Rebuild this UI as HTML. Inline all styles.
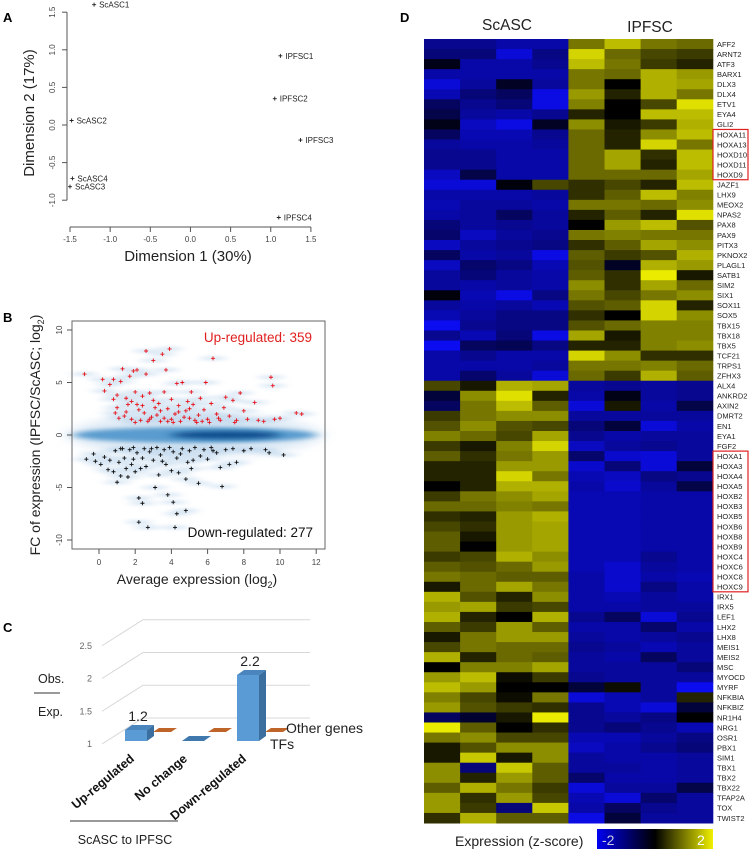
<!DOCTYPE html>
<html><head><meta charset="utf-8"><style>
html,body{margin:0;padding:0;background:#fff;}
svg{display:block;font-family:"Liberation Sans",Arial,sans-serif;}
</style></head><body>
<svg id="fig" width="750" height="851" viewBox="0 0 750 851" xmlns="http://www.w3.org/2000/svg">
<defs>
<filter id="blur6" x="-20%" y="-200%" width="140%" height="500%"><feGaussianBlur stdDeviation="10 4"/></filter>
<filter id="blur2" x="-20%" y="-200%" width="140%" height="500%"><feGaussianBlur stdDeviation="6 2"/></filter>
<filter id="blurH" x="-50%" y="-300%" width="200%" height="700%"><feGaussianBlur stdDeviation="5 1.5"/></filter>
<linearGradient id="cbar" x1="0" x2="1" y1="0" y2="0"><stop offset="0" stop-color="#0000f0"/><stop offset="0.5" stop-color="#000"/><stop offset="1" stop-color="#f0f000"/></linearGradient>
</defs>
<g id="panelA"></g>
<g id="panelB"></g>
<g id="panelC"></g>
<g id="panelD"></g>
</svg>
<script>
// ---- Panel A data ----
const mdsLabels = ["ScASC1","ScASC2","ScASC4","ScASC3","IPFSC1","IPFSC2","IPFSC3","IPFSC4"];
const mdsDim1 = [-1.2,-1.48,-1.47,-1.5,1.12,1.05,1.37,1.1];
const mdsDim2 = [1.6,0.06,-0.71,-0.82,0.92,0.35,-0.2,-1.23];
const mdsXTicks = [-1.5,-1.0,-0.5,0.0,0.5,1.0,1.5];
const mdsYTicks = [1.5,1.0,0.5,0.0,-0.5,-1.0];
// ---- Panel B data ----
const upX = [-0.8,0.2,0.3,0.6,0.8,0.8,1.0,1.0,1.2,1.3,1.5,1.5,1.7,1.8,1.9,2.0,2.1,2.1,2.3,2.4,2.5,2.6,2.6,2.8,2.9,3.0,3.1,3.3,3.4,3.5,3.6,3.7,3.8,3.9,4.0,4.0,4.2,4.3,4.4,4.5,4.6,4.8,5.0,5.1,5.2,5.3,5.5,5.6,5.8,5.9,6.0,6.2,6.3,6.5,6.7,6.9,7.0,7.2,7.4,7.6,7.8,8.0,8.2,8.6,8.8,9.1,9.5,9.6,9.7,10.0,10.9,11.2,1.4,2.0,2.7,3.2,3.6,4.1,4.7,5.4,6.1,1.6,2.2,3.0,4.9,5.7,6.6,7.5,0.9,1.1,2.4,3.8,4.4,5.0,3.4,2.8,1.8];
const upY = [5.8,5.3,4.2,4.8,5.3,3.4,2.6,3.8,5.1,6.3,3.5,2.2,5.6,1.5,6.1,4.1,6.2,2.9,1.4,3.7,2.1,8.0,5.8,4.0,1.7,7.1,2.6,3.0,1.3,7.7,4.1,6.2,2.5,8.2,1.5,3.4,2.0,4.9,2.8,1.3,5.0,2.3,1.6,4.1,2.9,1.4,1.9,3.5,2.4,5.0,1.5,3.0,7.3,2.0,1.4,2.6,3.6,1.8,3.3,1.4,4.0,2.3,1.5,3.1,1.4,1.3,5.5,4.7,1.5,1.6,2.1,2.0,1.8,1.2,1.3,1.9,1.6,1.2,1.7,1.2,1.2,2.9,2.4,3.3,3.2,1.3,1.6,1.2,2.1,1.6,2.8,1.3,2.2,2.5,2.3,1.5,3.2];
const downX = [-0.7,-0.3,-0.2,0.1,0.3,0.5,0.6,0.8,0.9,1.0,1.1,1.2,1.3,1.4,1.5,1.6,1.7,1.8,1.9,2.0,2.1,2.2,2.2,2.4,2.4,2.5,2.6,2.7,2.8,3.0,3.1,3.2,3.3,3.4,3.6,3.7,3.8,3.9,4.0,4.1,4.1,4.2,4.3,4.3,4.4,4.6,4.8,4.8,4.9,5.0,5.1,5.3,5.5,5.6,5.8,6.0,6.2,6.5,6.7,6.8,7.0,7.2,7.4,7.6,8.0,8.4,9.2,9.4,10.2,1.2,2.9,3.5,4.5,5.2,6.3,2.3,1.9];
const downY = [-2.3,-1.8,-2.5,-2.8,-2.1,-3.3,-2.4,-3.5,-1.5,-4.5,-2.6,-3.9,-1.3,-2.2,-3.2,-4.0,-1.4,-2.8,-1.2,-3.5,-1.7,-6.0,-8.3,-6.5,-2.2,-1.3,-3.0,-8.8,-1.6,-2.4,-5.0,-1.2,-3.8,-1.9,-1.4,-2.8,-5.7,-1.2,-3.4,-6.4,-1.6,-8.8,-2.2,-7.5,-3.6,-1.3,-7.2,-4.2,-2.6,-1.5,-3.2,-1.2,-4.6,-2.0,-1.4,-2.3,-1.2,-1.7,-3.1,-4.9,-1.4,-2.8,-1.3,-2.6,-1.5,-1.3,-1.4,-1.7,-1.9,-1.3,-1.3,-2.5,-1.8,-2.4,-1.5,-3.2,-2.3];
const maXTicks = [0,2,4,6,8,10,12];
const maYTicks = [10,5,0,-5,-10];
const upCount = 359, downCount = 277;
// ---- Panel C data ----
const cCategories = ["Up-regulated","No change","Down-regulated"];
const cTFs = [1.2,1.0,2.2];
const cOther = [1.2,1.2,1.2];
const cTicks = [2.5,2,1.5,1];
// ---- Panel D data ----
const genes = ["AFF2","ARNT2","ATF3","BARX1","DLX3","DLX4","ETV1","EYA4","GLI2","HOXA11","HOXA13","HOXD10","HOXD11","HOXD9","JAZF1","LHX9","MEOX2","NPAS2","PAX8","PAX9","PITX3","PKNOX2","PLAGL1","SATB1","SIM2","SIX1","SOX11","SOX5","TBX15","TBX18","TBX5","TCF21","TRPS1","ZFHX3","ALX4","ANKRD2","AXIN2","DMRT2","EN1","EYA1","FGF2","HOXA1","HOXA3","HOXA4","HOXA5","HOXB2","HOXB3","HOXB5","HOXB6","HOXB8","HOXB9","HOXC4","HOXC6","HOXC8","HOXC9","IRX1","IRX5","LEF1","LHX2","LHX8","MEIS1","MEIS2","MSC","MYOCD","MYRF","NFKBIA","NFKBIZ","NR1H4","NRG1","OSR1","PBX1","SIM1","TBX1","TBX2","TBX22","TFAP2A","TOX","TWIST2"];
const zScores = [
[-1.2,-1.2,-1.4,-1.4,1.0,1.6,1.0,0.9],[-1,-1,-1.8,-1.1,1.8,0.9,0.6,0.5],[-0.2,-1.4,-1.4,-1.2,1.6,1.0,0.5,0.3],[-1.4,-1.4,-1.4,-1.4,1.0,0.9,1.5,1.3],
[-1.8,-1.3,-0.3,-1.3,1.0,0,1.5,1.4],[-1.5,-1.0,-0.8,-1.9,1.3,0.3,1.5,1.0],[-0.8,-1.2,-1.0,-1.9,1.1,0,0.6,1.9],[-0.6,-1.3,-1.4,-1.2,0.3,0,1.6,1.6],
[-0.2,-1.6,-1.9,-0.3,1.2,0.2,0.5,1.5],[-0.8,-1.5,-1.5,-1.2,0.9,0.3,1.2,1.6],[-1.3,-1.4,-1.4,-1.3,0.9,0.3,1.8,1.0],[-1.2,-1.2,-1.4,-1.4,0.9,1.4,0.4,1.6],
[-1.2,-1.2,-1.4,-1.4,0.9,1.4,0.3,1.6],[-1.6,-0.6,-1.4,-1.4,0.9,0.9,0.9,1.4],[-1.8,-1.8,-0.1,0.6,0.4,0.6,0.3,1.6],[-1.4,-1.4,-1.4,-1.3,0.4,0.8,1.6,1.1],
[-1.5,-1.3,-1.3,-1.4,1.0,1.0,0.9,1.2],[-1.4,-1.3,-0.8,-1.3,0.3,0.8,0.3,1.9],[-1.0,-1.3,-1.2,-1.3,0.0,1.3,1.6,0.7],[-0.9,-1.6,-1.3,-1.2,1.0,1.1,1.0,1.0],
[-1.6,-1.3,-1.2,-1.1,0.4,0.8,1.4,1.2],[-0.8,-1.4,-1.3,-1.9,0.8,0.5,0.7,1.5],[-1.6,-0.9,-1.1,-1.5,0.7,-0.3,1.5,1.3],[-1.3,-1.0,-1.3,-1.4,0.8,0.4,2.0,0.2],
[-1.3,-1.4,-1.3,-1.4,1.2,0.4,1.4,0.9],[-0.1,-1.5,-1.9,-1.1,1.0,0.6,1.0,1.2],[-1.3,-1.4,-1.3,-1.5,0.7,0.8,1.8,0.3],[-1.5,-1.3,-1.1,-1.1,0.4,0,1.8,1.2],
[-2.0,-1.2,-1.1,-1.1,0.7,0.9,1.1,1.1],[-1.2,-1.5,-1.0,-1.9,1.4,0.2,1.1,1.1],[-2.2,-0.8,-0.7,-1.1,0.3,0.3,1.1,1.2],[-1.4,-1.2,-1.4,-1.4,1.8,1.2,0.4,0.4],
[-1.4,-1.4,-1.4,-1.3,1.0,1.0,1.1,0.9],[-1.4,-0.9,-1.3,-1.8,0.9,0.5,1.5,0.8],
[0.6,0.2,1.5,1.4,-1.3,-1.2,-1.3,-1.2],[-0.5,1.2,1.9,0.3,-1.4,-0.2,-1.3,-1.2],[-0.8,1.0,1.6,0.8,-1.8,0.2,-1.4,-0.6],[0.5,1.0,1.2,1.2,-1.3,-1.3,-1.3,-1.3],
[0.7,1.2,0.7,0.6,-1.0,-0.5,-1.8,-1.4],[1.1,0.9,0.6,1.4,-1.2,-1.4,-1.3,-1.3],[0.5,0.2,1.1,1.8,-1.6,-1.3,-1.2,-1.3],[0.8,0.4,1.0,1.3,-0.9,-1.7,-1.8,-1.3],
[0.3,0.3,1.3,1.3,-1.7,-1.0,-1.8,-0.5],[0.3,0.3,1.8,1.0,-1.5,-1.6,-1.1,-1.2],[0.0,0.3,1.5,1.5,-1.4,-1.7,-1.3,-0.6],[0.5,1.0,1.2,1.4,-1.5,-1.5,-1.4,-1.4],
[0.9,0.9,1.1,1.0,-1.5,-1.5,-1.4,-1.4],[0.4,0.3,1.3,1.5,-1.5,-1.5,-1.4,-1.4],[0.6,0.4,1.3,1.4,-1.5,-1.5,-1.4,-1.4],[0.8,0.2,1.3,1.4,-1.5,-1.5,-1.4,-1.4],
[0.8,0.0,1.3,1.4,-1.5,-1.5,-1.4,-1.4],[0.5,0.6,1.5,1.2,-1.5,-1.5,-1.2,-1.4],[0.8,0.7,0.9,1.3,-1.5,-1.7,-1.3,-1.4],[1.0,0.9,0.8,0.8,-1.4,-1.7,-1.4,-1.5],
[0.2,0.9,1.4,1.0,-1.4,-1.7,-1.1,-1.4],[1.5,0.7,0.3,1.2,-1.4,-1.5,-1.3,-1.4],[1.3,1.4,0.5,0.6,-1.4,-1.4,-1.3,-1.3],[1.5,0.3,0.0,1.5,-1.2,-0.8,-1.8,-1.2],
[0.8,0.5,1.3,0.8,-1.4,-1.4,-0.9,-1.4],[0.2,1.0,1.3,1.3,-1.3,-1.4,-1.3,-1.2],[0.6,1.0,0.9,0.9,-1.2,-1.3,-1.5,-1.3],[1.5,0.3,0.9,0.8,-1.3,-1.4,-0.8,-1.3],
[0.0,1.1,1.1,1.4,-1.3,-1.3,-1.3,-1.0],[1.3,1.6,0.1,0.5,-1.2,-1.3,-1.3,-1.3],[1.6,1.3,0.0,0.0,-0.5,0.1,-1.3,-2.0],[1.1,0.6,0.1,1.0,-1.8,-1.5,-1.3,0.3],
[1.3,0.7,0.5,0.4,-1.2,-1.5,-1.8,-0.5],[-0.8,-0.4,0.2,2.0,-1.2,-1.3,-1.1,0.0],[2.0,0.8,0.0,0.4,-1.2,-1.0,-1.2,-1.5],[1.0,1.2,0.6,0.6,-1.5,-1.5,-1.3,-1.1],
[0.2,0.7,1.2,1.2,-1.6,-1.4,-1.2,-1.0],[0.2,1.7,0.2,1.2,-1.3,-1.4,-1.4,-1.3],[1.2,-1.0,1.7,0.8,-1.3,-1.3,-1.4,-1.3],[1.2,0.3,1.3,0.8,-0.9,-1.4,-1.4,-1.3],
[0.8,1.5,1.0,0.5,-1.8,-1.3,-1.3,-0.6],[1.3,0.4,1.3,0.6,-1.5,-1.8,-0.9,-1.3],[1.3,0.5,-1.0,1.7,-1.4,-0.8,-1.2,-1.3],[0.4,1.5,0.8,0.8,-1.9,-0.5,-1.3,-1.3]
];
const boxedGroups = [["HOXA11","HOXD9"],["HOXA1","HOXC9"]];

const NS="http://www.w3.org/2000/svg";
function mk(parent,tag,attrs,text){const e=document.createElementNS(NS,tag);for(const k in attrs)e.setAttribute(k,attrs[k]);if(text!==undefined)e.textContent=text;parent.appendChild(e);return e;}
function cross(g,x,y,s,col,w){mk(g,"path",{d:`M${x-s},${y}H${x+s}M${x},${y-s}V${y+s}`,stroke:col,"stroke-width":w,fill:"none"});}

// ===== Panel A =====
(function(){
const g=document.getElementById("panelA");
const ax=v=>70+(v+1.5)*80.3, ay=v=>125-v*75.2;
let t=mk(g,"text",{x:3,y:22,"font-size":13,"font-weight":"bold"},"A");

let yl=mk(g,"line",{x1:67,x2:67,y1:ay(1.5),y2:ay(-1),stroke:"#555"});

mdsYTicks.forEach(v=>{mk(g,"line",{x1:62,x2:67,y1:ay(v),y2:ay(v),stroke:"#555"});
 const tx=mk(g,"text",{x:55,y:ay(v),"font-size":8,fill:"#444","text-anchor":"middle",transform:`rotate(-90 55 ${ay(v)})`},v.toFixed(1));
 });
let xl=mk(g,"line",{x1:ax(-1.5),x2:ax(1.5),y1:227,y2:227,stroke:"#555"});

mdsXTicks.forEach(v=>{mk(g,"line",{x1:ax(v),x2:ax(v),y1:227,y2:232,stroke:"#555"});
 const tx=mk(g,"text",{x:ax(v),y:242,"font-size":8,fill:"#444","text-anchor":"middle"},v.toFixed(1));
 });
let xt=mk(g,"text",{x:188,y:261,"font-size":15,fill:"#222","text-anchor":"middle"},"Dimension 1 (30%)");

let yt=mk(g,"text",{x:34,y:113,"font-size":15,fill:"#222","text-anchor":"middle",transform:"rotate(-90 34 113)"},"Dimension 2 (17%)");

mdsLabels.forEach((lab,i)=>{const px=ax(mdsDim1[i]),py=ay(mdsDim2[i]);
 const pg=mk(g,"g",{});
 cross(pg,px,py,2,"#222",0.9);
 mk(pg,"text",{x:px+5,y:py+3,"font-size":8,fill:"#222"},lab);});
})();

// ===== Panel B =====
(function(){
const g=document.getElementById("panelB");
const bx=v=>99+v*18.1, by=v=>435-v*10.5;
let t=mk(g,"text",{x:3,y:322,"font-size":13,"font-weight":"bold"},"B");

const band=mk(g,"g",{});
mk(band,"ellipse",{cx:bx(5.3),cy:by(0),rx:125,ry:22,fill:"#c9ddef",opacity:0.6,filter:"url(#blur6)"});
mk(band,"ellipse",{cx:bx(5.3),cy:by(0),rx:122,ry:8,fill:"#5a9ccf",filter:"url(#blur2)"});
mk(band,"ellipse",{cx:bx(7),cy:by(0),rx:55,ry:4,fill:"#0e4f8f",filter:"url(#blur2)"});
const halo=mk(band,"g",{filter:"url(#blurH)",opacity:0.45});
upX.forEach((x,i)=>mk(halo,"ellipse",{cx:bx(x),cy:by(upY[i]),rx:13,ry:2,fill:"#a9c9e6"}));
downX.forEach((x,i)=>mk(halo,"ellipse",{cx:bx(x),cy:by(downY[i]),rx:13,ry:2,fill:"#a9c9e6"}));
let box=mk(g,"rect",{x:72,y:321,width:253,height:228,fill:"none",stroke:"#666"});

maYTicks.forEach(v=>{mk(g,"line",{x1:67,x2:72,y1:by(v),y2:by(v),stroke:"#555"});
 const tx=mk(g,"text",{x:62,y:by(v),"font-size":8,fill:"#444","text-anchor":"middle",transform:`rotate(-90 62 ${by(v)})`},v);
 });
maXTicks.forEach(v=>{mk(g,"line",{x1:bx(v),x2:bx(v),y1:549,y2:554,stroke:"#555"});
 const tx=mk(g,"text",{x:bx(v),y:565,"font-size":8,fill:"#444","text-anchor":"middle"},v);
 });
const up=mk(g,"g",{});
upX.forEach((x,i)=>cross(up,bx(x),by(upY[i]),2,"#e8141c",0.9));
const dn=mk(g,"g",{});
downX.forEach((x,i)=>cross(dn,bx(x),by(downY[i]),2,"#111",0.9));
let ut=mk(g,"text",{x:312,y:342,"font-size":13.5,fill:"#e02020","text-anchor":"end"},"Up-regulated: "+upCount);

let dt=mk(g,"text",{x:313,y:537,"font-size":13.5,fill:"#111","text-anchor":"end"},"Down-regulated: "+downCount);

const xt=mk(g,"text",{x:197,y:584,"font-size":14,fill:"#222","text-anchor":"middle"},"Average expression (log");
mk(xt,"tspan",{"font-size":9,dy:4},"2");mk(xt,"tspan",{dy:-4},")");

const yt=mk(g,"text",{x:40,y:435,"font-size":14,fill:"#222","text-anchor":"middle",transform:"rotate(-90 40 435)"},"FC of expression (IPFSC/ScASC; log");
mk(yt,"tspan",{"font-size":9,dy:4},"2");mk(yt,"tspan",{dy:-4},")");

})();

// ===== Panel C =====
(function(){
const g=document.getElementById("panelC");
const cy=v=>741-(v-1)*55;
const backY=v=>718-(v-1)*65.5, frontY=v=>747-(v-1)*65.5;
let t=mk(g,"text",{x:3,y:632,"font-size":13,"font-weight":"bold"},"C");

cTicks.forEach(v=>{
 mk(g,"polyline",{points:`102,${frontY(v)-3} 143,${backY(v)} 310,${backY(v)}`,fill:"none",stroke:"#d8d8d8","stroke-width":1});
 const tx=mk(g,"text",{x:92,y:frontY(v),"font-size":9,fill:"#666","text-anchor":"end"},v);
 });
const catX=[125,182,237];
cCategories.forEach((c,i)=>{
 const x=catX[i];
 const og=mk(g,"g",{});
 const oy=cy(cOther[i])-2, ox=x+28+(i===1?20:0)-(i===1?22:0);
 mk(og,"polygon",{points:`${ox},${oy+4} ${ox+18},${oy+4} ${ox+24},${oy} ${ox+6},${oy}`,fill:"#c0652a"});
 const bg=mk(g,"g",{});
 const top=cy(cTFs[i]), bot=cy(1);
 if(top<bot-1){
  mk(bg,"rect",{x:x,y:top,width:22,height:bot-top,fill:"#5b9bd5"});
  mk(bg,"polygon",{points:`${x+22},${top} ${x+29},${top-5} ${x+29},${bot-5} ${x+22},${bot}`,fill:"#3a6f9f"});
  mk(bg,"polygon",{points:`${x},${top} ${x+7},${top-5} ${x+29},${top-5} ${x+22},${top}`,fill:"#4a86bd"});
  const lt=mk(g,"text",{x:x+13,y:top-9,"font-size":14,fill:"#222","text-anchor":"middle"},cTFs[i].toFixed(1));
  
 } else {
  mk(bg,"polygon",{points:`${x},${bot} ${x+22},${bot} ${x+29},${bot-5} ${x+7},${bot-5}`,fill:"#3f78ad"});
 }
 const lx=x+10-(i===1?4:0), ly=760;
 const ct=mk(g,"text",{x:lx,y:ly,"font-size":12.5,"font-weight":"bold",fill:"#111","text-anchor":"end",transform:`rotate(-40 ${lx} ${ly})`},c);
 
});
let l1=mk(g,"text",{x:286,y:733,"font-size":14,fill:"#222"},"Other genes");

let l2=mk(g,"text",{x:270,y:749,"font-size":14,fill:"#222"},"TFs");

mk(g,"text",{x:38,y:683,"font-size":12.5,fill:"#222"},"Obs.");
mk(g,"line",{x1:34,x2:60,y1:693,y2:693,stroke:"#333"});
mk(g,"text",{x:38,y:716,"font-size":12.5,fill:"#222"},"Exp.");
mk(g,"line",{x1:70,x2:178,y1:821,y2:821,stroke:"#333"});
let st=mk(g,"text",{x:125,y:844,"font-size":12.5,fill:"#222","text-anchor":"middle"},"ScASC to IPFSC");

})();

// ===== Panel D =====
(function(){
const g=document.getElementById("panelD");
const x0=424,cw=36.1,y0=39,rh=(823-39)/genes.length;
function col(v){v=Math.max(-2,Math.min(2,v));
 if(v<0){const b=Math.round(-v/2*240);return `rgb(${Math.round(b*0.05)},${Math.round(b*0.05)},${b})`;}
 const y=Math.round(v/2*235);return `rgb(${y},${y},0)`;}
let t=mk(g,"text",{x:400,y:22,"font-size":13,"font-weight":"bold"},"D");

let h1=mk(g,"text",{x:507,y:30,"font-size":15.5,fill:"#222","text-anchor":"middle"},"ScASC");

let h2=mk(g,"text",{x:650,y:32,"font-size":15.5,fill:"#222","text-anchor":"middle"},"IPFSC");

genes.forEach((gn,r)=>{
 zScores[r].forEach((v,c)=>{
  const cell=mk(g,"rect",{x:x0+c*cw,y:y0+r*rh,width:cw+0.5,height:rh+0.5,fill:col(v)});
  
  
 });
 const lb=mk(g,"text",{x:717,y:y0+r*rh+rh/2+2.8,"font-size":7.5,fill:"#222"},gn);
 
 
});
boxedGroups.forEach(([a,b])=>{const ia=genes.indexOf(a),ib=genes.indexOf(b);
 const bx=mk(g,"rect",{x:713,y:y0+ia*rh,width:35,height:(ib-ia+1)*rh,fill:"none",stroke:"#e02020","stroke-width":1.2});
 });
let lt=mk(g,"text",{x:455,y:846,"font-size":14,fill:"#222"},"Expression (z-score)");

let cb=mk(g,"rect",{x:597,y:829,width:116,height:20,fill:"url(#cbar)"});

mk(g,"text",{x:602,y:845,"font-size":14,fill:"#ccd"},"-2");
mk(g,"text",{x:697,y:845,"font-size":14,fill:"#fff"},"2");
})();
</script>
</body></html>
